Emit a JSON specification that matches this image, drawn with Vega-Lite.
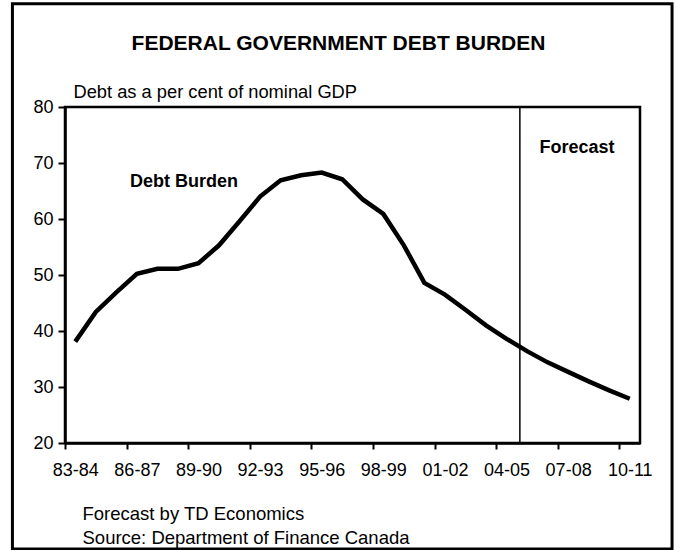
{
  "$schema": "https://vega.github.io/schema/vega-lite/v6.json",
  "width": 575,
  "height": 336,
  "autosize": {"type": "none"},
  "padding": {"left": 65, "top": 107, "right": 36, "bottom": 107},
  "background": "white",
  "title": {
    "text": "FEDERAL GOVERNMENT DEBT BURDEN",
    "font": "Liberation Sans",
    "fontSize": 21,
    "fontWeight": "bold",
    "color": "black",
    "anchor": "middle",
    "dx": -14,
    "offset": -52
  },
  "config": {
    "font": "Liberation Sans",
    "view": {"stroke": "black", "strokeWidth": 2.5},
    "axis": {
      "labelFont": "Liberation Sans",
      "titleFont": "Liberation Sans",
      "labelColor": "black",
      "titleColor": "black",
      "domainColor": "black",
      "tickColor": "black",
      "grid": false
    }
  },
  "datasets": {
    "debt": [
      {"year": "83-84", "i": 0, "debt": 38.1},
      {"year": "84-85", "i": 1, "debt": 43.4},
      {"year": "85-86", "i": 2, "debt": 46.9},
      {"year": "86-87", "i": 3, "debt": 50.2},
      {"year": "87-88", "i": 4, "debt": 51.1},
      {"year": "88-89", "i": 5, "debt": 51.1},
      {"year": "89-90", "i": 6, "debt": 52.1},
      {"year": "90-91", "i": 7, "debt": 55.3},
      {"year": "91-92", "i": 8, "debt": 59.6},
      {"year": "92-93", "i": 9, "debt": 64.0},
      {"year": "93-94", "i": 10, "debt": 66.9},
      {"year": "94-95", "i": 11, "debt": 67.8},
      {"year": "95-96", "i": 12, "debt": 68.3},
      {"year": "96-97", "i": 13, "debt": 67.1},
      {"year": "97-98", "i": 14, "debt": 63.5},
      {"year": "98-99", "i": 15, "debt": 60.9},
      {"year": "99-00", "i": 16, "debt": 55.3},
      {"year": "00-01", "i": 17, "debt": 48.6},
      {"year": "01-02", "i": 18, "debt": 46.5},
      {"year": "02-03", "i": 19, "debt": 43.8},
      {"year": "03-04", "i": 20, "debt": 41.0},
      {"year": "04-05", "i": 21, "debt": 38.6},
      {"year": "05-06", "i": 22, "debt": 36.4},
      {"year": "06-07", "i": 23, "debt": 34.4},
      {"year": "07-08", "i": 24, "debt": 32.7},
      {"year": "08-09", "i": 25, "debt": 31.0},
      {"year": "09-10", "i": 26, "debt": 29.4},
      {"year": "10-11", "i": 27, "debt": 27.9}
    ],
    "labels": [
      {"label": "Debt Burden", "i": 5.3, "debt": 66.6},
      {"label": "Forecast", "i": 24.43, "debt": 72.7}
    ],
    "forecastStart": [{"i": 21.65}],
    "frame": [{"x1": -3.06, "x2": 29.06, "y1": 98.43, "y2": 1.07}]
  },
  "layer": [
    {
      "data": {"name": "debt"},
      "mark": {"type": "line", "color": "black", "strokeWidth": 4.5},
      "encoding": {
        "x": {
          "field": "i",
          "type": "quantitative",
          "scale": {"domain": [-0.5, 27.5], "nice": false, "zero": false},
          "axis": {
            "values": [-0.5, 2.5, 5.5, 8.5, 11.5, 14.5, 17.5, 20.5, 23.5, 26.5],
            "labelExpr": "slice('0' + ((83.5 + datum.value) % 100), -2) + '-' + slice('0' + ((84.5 + datum.value) % 100), -2)",
            "labelOffset": 10.27,
            "labelFontSize": 18,
            "labelPadding": 12,
            "labelFlush": false,
            "labelOverlap": false,
            "tickSize": 6,
            "tickWidth": 2,
            "domainWidth": 2.5,
            "title": ["Forecast by TD Economics", "Source: Department of Finance Canada"],
            "titleFontSize": 18.5,
            "titleFontWeight": "normal",
            "titleAlign": "left",
            "titleAnchor": "start",
            "titleBaseline": "alphabetic",
            "titleX": 17,
            "titleY": 76,
            "titleLineHeight": 24.5
          }
        },
        "y": {
          "field": "debt",
          "type": "quantitative",
          "scale": {"domain": [20, 80], "nice": false, "zero": false},
          "axis": {
            "values": [20, 30, 40, 50, 60, 70, 80],
            "labelFontSize": 18,
            "labelPadding": 5,
            "tickSize": 7,
            "tickWidth": 2,
            "domainWidth": 2.5,
            "title": "Debt as a per cent of nominal GDP",
            "titleFontSize": 18.3,
            "titleFontWeight": "normal",
            "titleAngle": 0,
            "titleAlign": "left",
            "titleAnchor": "start",
            "titleBaseline": "alphabetic",
            "titleX": 8,
            "titleY": -10
          }
        }
      }
    },
    {
      "data": {"name": "forecastStart"},
      "mark": {"type": "rule", "color": "black", "strokeWidth": 1.5},
      "encoding": {"x": {"field": "i", "type": "quantitative"}}
    },
    {
      "data": {"name": "labels"},
      "mark": {"type": "text", "font": "Liberation Sans", "fontSize": 18, "fontWeight": "bold", "color": "black", "align": "center", "baseline": "middle"},
      "encoding": {
        "x": {"field": "i", "type": "quantitative"},
        "y": {"field": "debt", "type": "quantitative"},
        "text": {"field": "label"}
      }
    },
    {
      "data": {"name": "frame"},
      "mark": {"type": "rect", "fill": null, "fillOpacity": 0, "stroke": "black", "strokeWidth": 3, "clip": false},
      "encoding": {
        "x": {"field": "x1", "type": "quantitative"},
        "x2": {"field": "x2"},
        "y": {"field": "y1", "type": "quantitative"},
        "y2": {"field": "y2"}
      }
    }
  ]
}
